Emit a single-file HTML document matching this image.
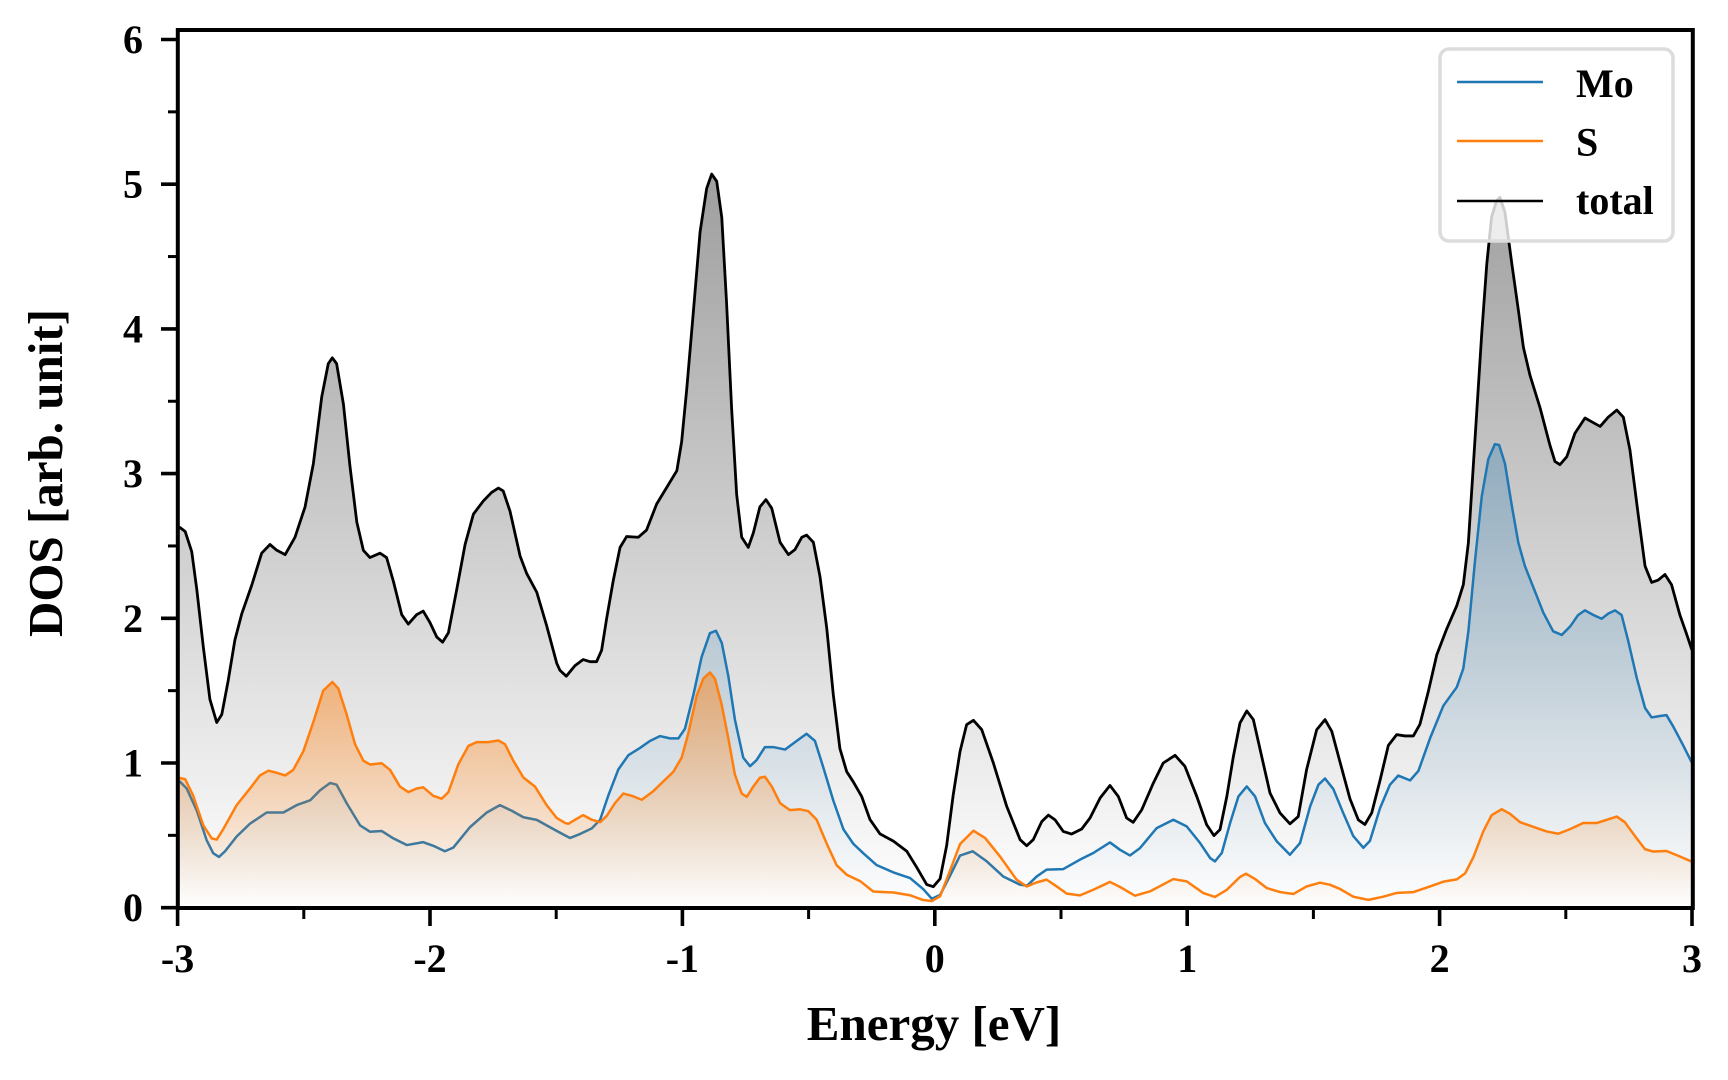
<!DOCTYPE html>
<html>
<head>
<meta charset="utf-8">
<style>
html,body{margin:0;padding:0;background:#fff;}
svg{display:block;}
text{font-family:"Liberation Serif","Times New Roman",serif;font-weight:bold;fill:#000;}
</style>
</head>
<body>
<svg width="1728" height="1080" viewBox="0 0 1728 1080" xmlns="http://www.w3.org/2000/svg">
<defs>
<clipPath id="ax"><rect x="178" y="30" width="1515" height="878"/></clipPath>
<linearGradient id="gT" gradientUnits="userSpaceOnUse" x1="0" y1="5.07" x2="0" y2="0">
<stop offset="0" stop-color="#000" stop-opacity="0.38"/><stop offset="1" stop-color="#000" stop-opacity="0"/>
</linearGradient>
<linearGradient id="gM" gradientUnits="userSpaceOnUse" x1="0" y1="3.2" x2="0" y2="0">
<stop offset="0" stop-color="#1f77b4" stop-opacity="0.3"/><stop offset="1" stop-color="#1f77b4" stop-opacity="0"/>
</linearGradient>
<linearGradient id="gS" gradientUnits="userSpaceOnUse" x1="0" y1="1.63" x2="0" y2="0">
<stop offset="0" stop-color="#ff7f0e" stop-opacity="0.5"/><stop offset="1" stop-color="#ff7f0e" stop-opacity="0"/>
</linearGradient>
</defs>

<g clip-path="url(#ax)">
<g transform="translate(934.8,907.7) scale(252.4,-144.7)">
<!-- total -->
<path fill="url(#gT)" stroke="none" d="M-3 0 L-3.0 2.62 -2.99 2.627 -2.97 2.60 -2.944 2.46 -2.924 2.20 -2.898 1.80 -2.872 1.44 -2.845 1.28 -2.825 1.335 -2.80 1.565 -2.773 1.85 -2.746 2.03 -2.706 2.23 -2.667 2.45 -2.634 2.51 -2.607 2.47 -2.574 2.44 -2.535 2.56 -2.495 2.77 -2.462 3.07 -2.429 3.53 -2.403 3.76 -2.387 3.80 -2.370 3.76 -2.343 3.48 -2.317 3.05 -2.29 2.665 -2.264 2.47 -2.238 2.42 -2.198 2.45 -2.172 2.42 -2.145 2.255 -2.112 2.025 -2.086 1.96 -2.053 2.025 -2.027 2.05 -2.0 1.97 -1.973 1.87 -1.95 1.835 -1.927 1.90 -1.894 2.20 -1.861 2.51 -1.828 2.72 -1.789 2.81 -1.756 2.87 -1.729 2.90 -1.71 2.88 -1.683 2.74 -1.643 2.43 -1.617 2.31 -1.577 2.18 -1.538 1.95 -1.498 1.69 -1.485 1.64 -1.46 1.60 -1.426 1.672 -1.393 1.715 -1.366 1.70 -1.34 1.70 -1.32 1.78 -1.30 2.0 -1.274 2.26 -1.247 2.49 -1.221 2.565 -1.175 2.56 -1.142 2.61 -1.102 2.79 -1.062 2.905 -1.022 3.02 -1.003 3.22 -0.983 3.58 -0.957 4.11 -0.93 4.67 -0.904 4.97 -0.884 5.07 -0.864 5.02 -0.844 4.77 -0.825 4.18 -0.805 3.45 -0.785 2.855 -0.765 2.56 -0.739 2.49 -0.719 2.59 -0.693 2.77 -0.669 2.82 -0.646 2.76 -0.613 2.525 -0.58 2.44 -0.554 2.475 -0.527 2.56 -0.508 2.575 -0.481 2.525 -0.455 2.29 -0.428 1.93 -0.402 1.47 -0.376 1.10 -0.349 0.94 -0.323 0.87 -0.29 0.77 -0.257 0.61 -0.217 0.51 -0.164 0.46 -0.111 0.39 -0.072 0.28 -0.032 0.16 -0.006 0.145 0.021 0.20 0.047 0.43 0.073 0.78 0.10 1.08 0.126 1.265 0.153 1.295 0.186 1.23 0.232 1.0 0.285 0.70 0.338 0.47 0.364 0.428 0.39 0.47 0.424 0.596 0.45 0.64 0.476 0.608 0.509 0.527 0.542 0.509 0.582 0.544 0.615 0.62 0.655 0.758 0.694 0.845 0.727 0.769 0.76 0.62 0.786 0.59 0.82 0.677 0.866 0.862 0.905 1.0 0.952 1.053 0.991 0.977 1.038 0.769 1.077 0.574 1.106 0.498 1.13 0.54 1.157 0.769 1.183 1.046 1.209 1.276 1.236 1.36 1.262 1.30 1.295 1.046 1.328 0.793 1.368 0.654 1.407 0.58 1.44 0.63 1.473 0.954 1.513 1.23 1.546 1.30 1.573 1.218 1.605 1.009 1.645 0.752 1.678 0.607 1.704 0.575 1.731 0.655 1.764 0.88 1.797 1.122 1.83 1.196 1.863 1.187 1.896 1.187 1.922 1.267 1.955 1.492 1.989 1.749 2.028 1.926 2.068 2.087 2.094 2.232 2.114 2.522 2.14 3.23 2.167 3.97 2.187 4.45 2.206 4.774 2.226 4.886 2.239 4.909 2.259 4.806 2.286 4.452 2.312 4.13 2.332 3.873 2.358 3.68 2.398 3.455 2.437 3.197 2.457 3.084 2.477 3.062 2.504 3.117 2.536 3.278 2.576 3.384 2.603 3.358 2.636 3.326 2.668 3.39 2.702 3.439 2.728 3.39 2.754 3.165 2.787 2.715 2.814 2.361 2.84 2.248 2.866 2.264 2.893 2.303 2.919 2.232 2.952 2.023 2.978 1.894 3.0 1.78 L3 0 Z"/>
<polyline fill="none" stroke="#000" stroke-width="2.8" stroke-linejoin="round" vector-effect="non-scaling-stroke" points="-3.0 2.62 -2.99 2.627 -2.97 2.60 -2.944 2.46 -2.924 2.20 -2.898 1.80 -2.872 1.44 -2.845 1.28 -2.825 1.335 -2.80 1.565 -2.773 1.85 -2.746 2.03 -2.706 2.23 -2.667 2.45 -2.634 2.51 -2.607 2.47 -2.574 2.44 -2.535 2.56 -2.495 2.77 -2.462 3.07 -2.429 3.53 -2.403 3.76 -2.387 3.80 -2.370 3.76 -2.343 3.48 -2.317 3.05 -2.29 2.665 -2.264 2.47 -2.238 2.42 -2.198 2.45 -2.172 2.42 -2.145 2.255 -2.112 2.025 -2.086 1.96 -2.053 2.025 -2.027 2.05 -2.0 1.97 -1.973 1.87 -1.95 1.835 -1.927 1.90 -1.894 2.20 -1.861 2.51 -1.828 2.72 -1.789 2.81 -1.756 2.87 -1.729 2.90 -1.71 2.88 -1.683 2.74 -1.643 2.43 -1.617 2.31 -1.577 2.18 -1.538 1.95 -1.498 1.69 -1.485 1.64 -1.46 1.60 -1.426 1.672 -1.393 1.715 -1.366 1.70 -1.34 1.70 -1.32 1.78 -1.30 2.0 -1.274 2.26 -1.247 2.49 -1.221 2.565 -1.175 2.56 -1.142 2.61 -1.102 2.79 -1.062 2.905 -1.022 3.02 -1.003 3.22 -0.983 3.58 -0.957 4.11 -0.93 4.67 -0.904 4.97 -0.884 5.07 -0.864 5.02 -0.844 4.77 -0.825 4.18 -0.805 3.45 -0.785 2.855 -0.765 2.56 -0.739 2.49 -0.719 2.59 -0.693 2.77 -0.669 2.82 -0.646 2.76 -0.613 2.525 -0.58 2.44 -0.554 2.475 -0.527 2.56 -0.508 2.575 -0.481 2.525 -0.455 2.29 -0.428 1.93 -0.402 1.47 -0.376 1.10 -0.349 0.94 -0.323 0.87 -0.29 0.77 -0.257 0.61 -0.217 0.51 -0.164 0.46 -0.111 0.39 -0.072 0.28 -0.032 0.16 -0.006 0.145 0.021 0.20 0.047 0.43 0.073 0.78 0.10 1.08 0.126 1.265 0.153 1.295 0.186 1.23 0.232 1.0 0.285 0.70 0.338 0.47 0.364 0.428 0.39 0.47 0.424 0.596 0.45 0.64 0.476 0.608 0.509 0.527 0.542 0.509 0.582 0.544 0.615 0.62 0.655 0.758 0.694 0.845 0.727 0.769 0.76 0.62 0.786 0.59 0.82 0.677 0.866 0.862 0.905 1.0 0.952 1.053 0.991 0.977 1.038 0.769 1.077 0.574 1.106 0.498 1.13 0.54 1.157 0.769 1.183 1.046 1.209 1.276 1.236 1.36 1.262 1.30 1.295 1.046 1.328 0.793 1.368 0.654 1.407 0.58 1.44 0.63 1.473 0.954 1.513 1.23 1.546 1.30 1.573 1.218 1.605 1.009 1.645 0.752 1.678 0.607 1.704 0.575 1.731 0.655 1.764 0.88 1.797 1.122 1.83 1.196 1.863 1.187 1.896 1.187 1.922 1.267 1.955 1.492 1.989 1.749 2.028 1.926 2.068 2.087 2.094 2.232 2.114 2.522 2.14 3.23 2.167 3.97 2.187 4.45 2.206 4.774 2.226 4.886 2.239 4.909 2.259 4.806 2.286 4.452 2.312 4.13 2.332 3.873 2.358 3.68 2.398 3.455 2.437 3.197 2.457 3.084 2.477 3.062 2.504 3.117 2.536 3.278 2.576 3.384 2.603 3.358 2.636 3.326 2.668 3.39 2.702 3.439 2.728 3.39 2.754 3.165 2.787 2.715 2.814 2.361 2.84 2.248 2.866 2.264 2.893 2.303 2.919 2.232 2.952 2.023 2.978 1.894 3.0 1.78"/>

<!-- Mo -->
<path fill="url(#gM)" stroke="none" d="M-3 0 L-3.0 0.875 -2.99 0.87 -2.964 0.824 -2.924 0.671 -2.885 0.467 -2.859 0.377 -2.836 0.351 -2.812 0.39 -2.766 0.492 -2.713 0.581 -2.647 0.658 -2.581 0.658 -2.528 0.709 -2.475 0.742 -2.436 0.811 -2.396 0.862 -2.37 0.85 -2.33 0.722 -2.277 0.569 -2.238 0.525 -2.191 0.53 -2.145 0.479 -2.092 0.433 -2.027 0.453 -1.987 0.428 -1.941 0.39 -1.908 0.415 -1.842 0.556 -1.775 0.658 -1.723 0.709 -1.676 0.67 -1.63 0.625 -1.577 0.607 -1.511 0.543 -1.465 0.50 -1.445 0.482 -1.406 0.509 -1.359 0.548 -1.326 0.608 -1.294 0.773 -1.254 0.955 -1.214 1.054 -1.168 1.104 -1.128 1.153 -1.089 1.186 -1.049 1.17 -1.016 1.17 -0.99 1.236 -0.957 1.467 -0.924 1.732 -0.891 1.897 -0.867 1.914 -0.844 1.83 -0.818 1.60 -0.792 1.30 -0.759 1.037 -0.732 0.978 -0.706 1.02 -0.673 1.11 -0.64 1.11 -0.593 1.093 -0.547 1.153 -0.508 1.202 -0.475 1.153 -0.442 0.971 -0.402 0.74 -0.362 0.542 -0.323 0.442 -0.283 0.376 -0.23 0.294 -0.164 0.244 -0.098 0.205 -0.046 0.129 -0.012 0.062 0.021 0.088 0.06 0.22 0.10 0.36 0.15 0.39 0.206 0.32 0.271 0.216 0.338 0.159 0.366 0.152 0.404 0.216 0.443 0.263 0.509 0.267 0.575 0.332 0.628 0.378 0.694 0.451 0.734 0.40 0.773 0.361 0.813 0.412 0.879 0.55 0.945 0.608 0.998 0.562 1.051 0.447 1.091 0.343 1.11 0.32 1.137 0.378 1.17 0.585 1.203 0.769 1.236 0.838 1.269 0.769 1.308 0.585 1.355 0.458 1.407 0.366 1.447 0.447 1.487 0.70 1.52 0.85 1.546 0.893 1.579 0.82 1.618 0.655 1.658 0.495 1.698 0.414 1.724 0.462 1.764 0.688 1.803 0.849 1.836 0.913 1.883 0.88 1.916 0.945 1.962 1.17 2.015 1.396 2.068 1.524 2.094 1.653 2.114 1.91 2.14 2.393 2.167 2.843 2.193 3.10 2.219 3.204 2.236 3.197 2.259 3.068 2.286 2.779 2.312 2.522 2.338 2.361 2.371 2.216 2.411 2.039 2.45 1.91 2.484 1.885 2.517 1.943 2.549 2.023 2.576 2.055 2.609 2.023 2.642 1.997 2.668 2.032 2.695 2.055 2.721 2.023 2.747 1.846 2.781 1.589 2.814 1.38 2.84 1.315 2.873 1.325 2.899 1.331 2.926 1.251 2.965 1.122 3.0 1.0 L3 0 Z"/>
<polyline fill="none" stroke="#1f77b4" stroke-width="2.5" stroke-linejoin="round" vector-effect="non-scaling-stroke" points="-3.0 0.875 -2.99 0.87 -2.964 0.824 -2.924 0.671 -2.885 0.467 -2.859 0.377 -2.836 0.351 -2.812 0.39 -2.766 0.492 -2.713 0.581 -2.647 0.658 -2.581 0.658 -2.528 0.709 -2.475 0.742 -2.436 0.811 -2.396 0.862 -2.37 0.85 -2.33 0.722 -2.277 0.569 -2.238 0.525 -2.191 0.53 -2.145 0.479 -2.092 0.433 -2.027 0.453 -1.987 0.428 -1.941 0.39 -1.908 0.415 -1.842 0.556 -1.775 0.658 -1.723 0.709 -1.676 0.67 -1.63 0.625 -1.577 0.607 -1.511 0.543 -1.465 0.50 -1.445 0.482 -1.406 0.509 -1.359 0.548 -1.326 0.608 -1.294 0.773 -1.254 0.955 -1.214 1.054 -1.168 1.104 -1.128 1.153 -1.089 1.186 -1.049 1.17 -1.016 1.17 -0.99 1.236 -0.957 1.467 -0.924 1.732 -0.891 1.897 -0.867 1.914 -0.844 1.83 -0.818 1.60 -0.792 1.30 -0.759 1.037 -0.732 0.978 -0.706 1.02 -0.673 1.11 -0.64 1.11 -0.593 1.093 -0.547 1.153 -0.508 1.202 -0.475 1.153 -0.442 0.971 -0.402 0.74 -0.362 0.542 -0.323 0.442 -0.283 0.376 -0.23 0.294 -0.164 0.244 -0.098 0.205 -0.046 0.129 -0.012 0.062 0.021 0.088 0.06 0.22 0.10 0.36 0.15 0.39 0.206 0.32 0.271 0.216 0.338 0.159 0.366 0.152 0.404 0.216 0.443 0.263 0.509 0.267 0.575 0.332 0.628 0.378 0.694 0.451 0.734 0.40 0.773 0.361 0.813 0.412 0.879 0.55 0.945 0.608 0.998 0.562 1.051 0.447 1.091 0.343 1.11 0.32 1.137 0.378 1.17 0.585 1.203 0.769 1.236 0.838 1.269 0.769 1.308 0.585 1.355 0.458 1.407 0.366 1.447 0.447 1.487 0.70 1.52 0.85 1.546 0.893 1.579 0.82 1.618 0.655 1.658 0.495 1.698 0.414 1.724 0.462 1.764 0.688 1.803 0.849 1.836 0.913 1.883 0.88 1.916 0.945 1.962 1.17 2.015 1.396 2.068 1.524 2.094 1.653 2.114 1.91 2.14 2.393 2.167 2.843 2.193 3.10 2.219 3.204 2.236 3.197 2.259 3.068 2.286 2.779 2.312 2.522 2.338 2.361 2.371 2.216 2.411 2.039 2.45 1.91 2.484 1.885 2.517 1.943 2.549 2.023 2.576 2.055 2.609 2.023 2.642 1.997 2.668 2.032 2.695 2.055 2.721 2.023 2.747 1.846 2.781 1.589 2.814 1.38 2.84 1.315 2.873 1.325 2.899 1.331 2.926 1.251 2.965 1.122 3.0 1.0"/>

<!-- S -->
<path fill="url(#gS)" stroke="none" d="M-3 0 L-3.0 0.90 -2.99 0.896 -2.97 0.888 -2.938 0.773 -2.898 0.569 -2.865 0.479 -2.845 0.471 -2.819 0.543 -2.766 0.709 -2.713 0.824 -2.674 0.914 -2.64 0.947 -2.607 0.932 -2.574 0.914 -2.542 0.952 -2.502 1.08 -2.462 1.284 -2.423 1.50 -2.387 1.56 -2.363 1.514 -2.33 1.335 -2.297 1.13 -2.264 1.016 -2.238 0.99 -2.191 0.998 -2.158 0.952 -2.119 0.837 -2.086 0.799 -2.053 0.824 -2.027 0.832 -1.987 0.773 -1.954 0.753 -1.927 0.799 -1.888 0.99 -1.848 1.118 -1.815 1.144 -1.769 1.144 -1.729 1.156 -1.703 1.13 -1.67 1.016 -1.63 0.90 -1.584 0.837 -1.538 0.709 -1.498 0.62 -1.465 0.586 -1.452 0.58 -1.419 0.614 -1.393 0.64 -1.359 0.608 -1.326 0.591 -1.30 0.634 -1.267 0.723 -1.234 0.789 -1.20 0.773 -1.161 0.746 -1.115 0.806 -1.076 0.872 -1.036 0.939 -1.003 1.037 -0.977 1.202 -0.943 1.467 -0.917 1.583 -0.891 1.626 -0.871 1.583 -0.844 1.40 -0.818 1.17 -0.792 0.92 -0.765 0.789 -0.745 0.766 -0.719 0.838 -0.693 0.898 -0.673 0.905 -0.646 0.838 -0.613 0.723 -0.574 0.674 -0.534 0.68 -0.501 0.667 -0.468 0.608 -0.428 0.442 -0.389 0.294 -0.349 0.228 -0.296 0.184 -0.244 0.112 -0.164 0.105 -0.098 0.086 -0.046 0.053 -0.012 0.046 0.021 0.079 0.06 0.254 0.10 0.44 0.153 0.532 0.199 0.482 0.258 0.355 0.324 0.194 0.364 0.147 0.404 0.175 0.443 0.194 0.483 0.147 0.523 0.097 0.575 0.085 0.628 0.124 0.694 0.178 0.734 0.143 0.793 0.083 0.853 0.113 0.945 0.198 0.998 0.182 1.064 0.101 1.11 0.074 1.157 0.124 1.209 0.212 1.233 0.235 1.269 0.198 1.315 0.136 1.368 0.108 1.421 0.095 1.473 0.147 1.526 0.173 1.565 0.159 1.605 0.13 1.658 0.076 1.718 0.054 1.777 0.076 1.83 0.102 1.896 0.108 1.962 0.147 2.015 0.18 2.068 0.196 2.101 0.237 2.134 0.35 2.173 0.527 2.206 0.639 2.246 0.681 2.279 0.649 2.319 0.591 2.371 0.559 2.424 0.527 2.47 0.511 2.517 0.543 2.569 0.585 2.622 0.585 2.662 0.607 2.702 0.63 2.734 0.591 2.774 0.495 2.814 0.404 2.846 0.388 2.899 0.392 2.945 0.359 3.0 0.318 L3 0 Z"/>
<polyline fill="none" stroke="#ff7f0e" stroke-width="2.5" stroke-linejoin="round" vector-effect="non-scaling-stroke" points="-3.0 0.90 -2.99 0.896 -2.97 0.888 -2.938 0.773 -2.898 0.569 -2.865 0.479 -2.845 0.471 -2.819 0.543 -2.766 0.709 -2.713 0.824 -2.674 0.914 -2.64 0.947 -2.607 0.932 -2.574 0.914 -2.542 0.952 -2.502 1.08 -2.462 1.284 -2.423 1.50 -2.387 1.56 -2.363 1.514 -2.33 1.335 -2.297 1.13 -2.264 1.016 -2.238 0.99 -2.191 0.998 -2.158 0.952 -2.119 0.837 -2.086 0.799 -2.053 0.824 -2.027 0.832 -1.987 0.773 -1.954 0.753 -1.927 0.799 -1.888 0.99 -1.848 1.118 -1.815 1.144 -1.769 1.144 -1.729 1.156 -1.703 1.13 -1.67 1.016 -1.63 0.90 -1.584 0.837 -1.538 0.709 -1.498 0.62 -1.465 0.586 -1.452 0.58 -1.419 0.614 -1.393 0.64 -1.359 0.608 -1.326 0.591 -1.30 0.634 -1.267 0.723 -1.234 0.789 -1.20 0.773 -1.161 0.746 -1.115 0.806 -1.076 0.872 -1.036 0.939 -1.003 1.037 -0.977 1.202 -0.943 1.467 -0.917 1.583 -0.891 1.626 -0.871 1.583 -0.844 1.40 -0.818 1.17 -0.792 0.92 -0.765 0.789 -0.745 0.766 -0.719 0.838 -0.693 0.898 -0.673 0.905 -0.646 0.838 -0.613 0.723 -0.574 0.674 -0.534 0.68 -0.501 0.667 -0.468 0.608 -0.428 0.442 -0.389 0.294 -0.349 0.228 -0.296 0.184 -0.244 0.112 -0.164 0.105 -0.098 0.086 -0.046 0.053 -0.012 0.046 0.021 0.079 0.06 0.254 0.10 0.44 0.153 0.532 0.199 0.482 0.258 0.355 0.324 0.194 0.364 0.147 0.404 0.175 0.443 0.194 0.483 0.147 0.523 0.097 0.575 0.085 0.628 0.124 0.694 0.178 0.734 0.143 0.793 0.083 0.853 0.113 0.945 0.198 0.998 0.182 1.064 0.101 1.11 0.074 1.157 0.124 1.209 0.212 1.233 0.235 1.269 0.198 1.315 0.136 1.368 0.108 1.421 0.095 1.473 0.147 1.526 0.173 1.565 0.159 1.605 0.13 1.658 0.076 1.718 0.054 1.777 0.076 1.83 0.102 1.896 0.108 1.962 0.147 2.015 0.18 2.068 0.196 2.101 0.237 2.134 0.35 2.173 0.527 2.206 0.639 2.246 0.681 2.279 0.649 2.319 0.591 2.371 0.559 2.424 0.527 2.47 0.511 2.517 0.543 2.569 0.585 2.622 0.585 2.662 0.607 2.702 0.63 2.734 0.591 2.774 0.495 2.814 0.404 2.846 0.388 2.899 0.392 2.945 0.359 3.0 0.318"/>
</g>
</g>

<!-- legend -->
<rect x="1440" y="49" width="233" height="192" rx="9" ry="9" fill="#fff" fill-opacity="0.8" stroke="#dcdcdc" stroke-width="3.5"/>
<line x1="1457" y1="82" x2="1543" y2="82" stroke="#1f77b4" stroke-width="2.6"/>
<line x1="1457" y1="141" x2="1543" y2="141" stroke="#ff7f0e" stroke-width="2.6"/>
<line x1="1457" y1="201" x2="1543" y2="201" stroke="#000" stroke-width="2.6"/>
<text x="1576" y="97" font-size="40">Mo</text>
<text x="1576" y="155.5" font-size="40">S</text>
<text x="1576" y="214" font-size="40">total</text>

<!-- spines -->
<rect x="177.8" y="30" width="1515" height="878" fill="none" stroke="#000" stroke-width="4"/>

<!-- y ticks -->
<g stroke="#000" stroke-width="3.6">
<line x1="161" y1="907.7" x2="178" y2="907.7"/>
<line x1="161" y1="763" x2="178" y2="763"/>
<line x1="161" y1="618.3" x2="178" y2="618.3"/>
<line x1="161" y1="473.6" x2="178" y2="473.6"/>
<line x1="161" y1="328.9" x2="178" y2="328.9"/>
<line x1="161" y1="184.2" x2="178" y2="184.2"/>
<line x1="161" y1="39.5" x2="178" y2="39.5"/>
</g>
<g stroke="#000" stroke-width="3">
<line x1="168" y1="835.35" x2="178" y2="835.35"/>
<line x1="168" y1="690.65" x2="178" y2="690.65"/>
<line x1="168" y1="545.95" x2="178" y2="545.95"/>
<line x1="168" y1="401.25" x2="178" y2="401.25"/>
<line x1="168" y1="256.55" x2="178" y2="256.55"/>
<line x1="168" y1="111.85" x2="178" y2="111.85"/>
</g>
<!-- x ticks -->
<g stroke="#000" stroke-width="3.6">
<line x1="177.6" y1="908" x2="177.6" y2="926"/>
<line x1="430" y1="908" x2="430" y2="926"/>
<line x1="682.4" y1="908" x2="682.4" y2="926"/>
<line x1="934.8" y1="908" x2="934.8" y2="926"/>
<line x1="1187.2" y1="908" x2="1187.2" y2="926"/>
<line x1="1439.6" y1="908" x2="1439.6" y2="926"/>
<line x1="1692" y1="908" x2="1692" y2="926"/>
</g>
<g stroke="#000" stroke-width="3">
<line x1="303.8" y1="908" x2="303.8" y2="919"/>
<line x1="556.2" y1="908" x2="556.2" y2="919"/>
<line x1="808.6" y1="908" x2="808.6" y2="919"/>
<line x1="1061" y1="908" x2="1061" y2="919"/>
<line x1="1313.4" y1="908" x2="1313.4" y2="919"/>
<line x1="1565.8" y1="908" x2="1565.8" y2="919"/>
</g>

<!-- y tick labels -->
<g font-size="40" text-anchor="end">
<text x="143" y="921.2">0</text>
<text x="143" y="776.5">1</text>
<text x="143" y="631.8">2</text>
<text x="143" y="487.1">3</text>
<text x="143" y="342.4">4</text>
<text x="143" y="197.7">5</text>
<text x="143" y="53">6</text>
</g>
<!-- x tick labels -->
<g font-size="40" text-anchor="middle">
<text x="177.6" y="972">-3</text>
<text x="430" y="972">-2</text>
<text x="682.4" y="972">-1</text>
<text x="934.8" y="972">0</text>
<text x="1187.2" y="972">1</text>
<text x="1439.6" y="972">2</text>
<text x="1692" y="972">3</text>
</g>

<!-- axis labels -->
<text x="934" y="1040" font-size="49" text-anchor="middle">Energy [eV]</text>
<text transform="translate(62,473) rotate(-90)" font-size="49" text-anchor="middle">DOS [arb. unit]</text>
</svg>
</body>
</html>
